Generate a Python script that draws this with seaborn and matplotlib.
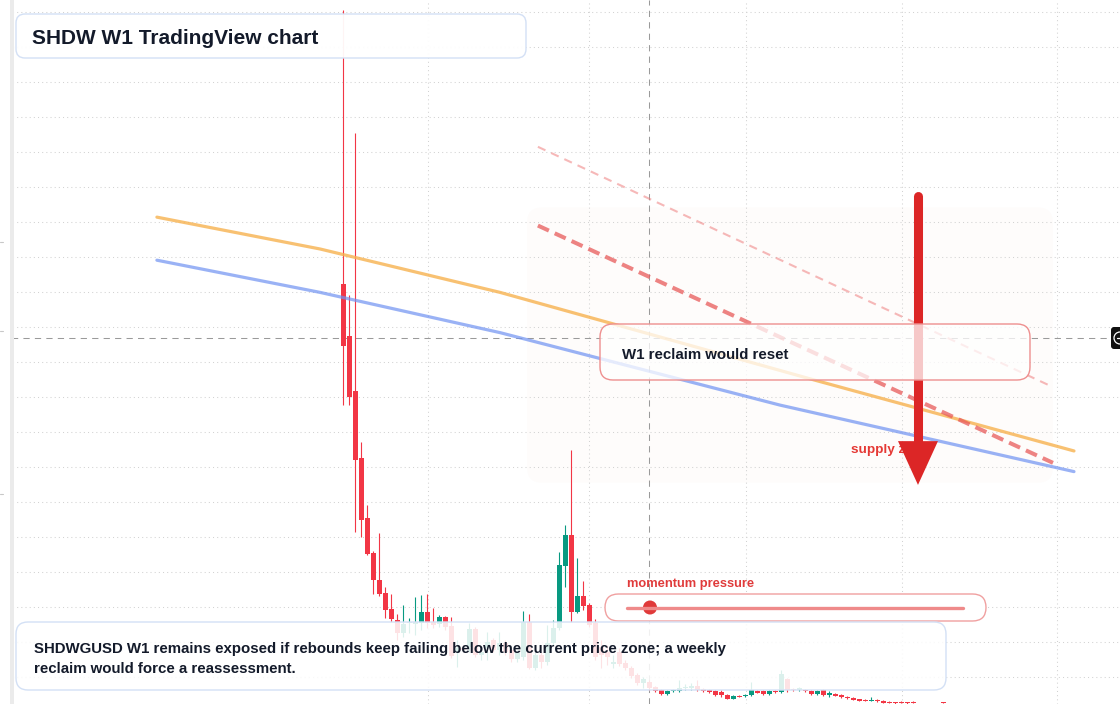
import numpy as np
import pandas as pd
import matplotlib
matplotlib.use("Agg")
import matplotlib.pyplot as plt
import seaborn as sns
from matplotlib.colors import to_rgba
from matplotlib.patches import FancyBboxPatch, Rectangle, Polygon, Circle

# SHDW/USD weekly candles (index 0 = first listed week), prices in USD
opens = [1.222, 1.073, 0.916, 0.725, 0.553, 0.453, 0.376, 0.339, 0.293, 0.262,
         0.225, 0.253, 0.251, 0.253, 0.285, 0.256, 0.251, 0.271, 0.245, 0.171,
         0.182, 0.185, 0.236, 0.162, 0.182, 0.205, 0.176, 0.196, 0.176, 0.151,
         0.156, 0.256, 0.125, 0.162, 0.142, 0.196, 0.239, 0.417, 0.505, 0.286,
         0.331, 0.305, 0.253, 0.185, 0.171, 0.136, 0.171, 0.139, 0.125, 0.105,
         0.082, 0.085, 0.071, 0.062, 0.051, 0.059, 0.059, 0.068, 0.068, 0.073,
         0.065, 0.062, 0.059, 0.056, 0.048, 0.037, 0.045, 0.045, 0.048, 0.060,
         0.059, 0.051, 0.060, 0.056, 0.093, 0.065, 0.062, 0.062, 0.060, 0.051,
         0.062, 0.048, 0.051, 0.048, 0.043, 0.040, 0.035, 0.033, 0.031, 0.033,
         0.031, 0.029, 0.028, 0.029, 0.028, 0.029, 0.021, 0.019, 0.018, 0.019,
         0.025]
highs = [2.005, 1.191, 1.653, 0.770, 0.590, 0.459, 0.510, 0.357, 0.336, 0.279,
         0.305, 0.268, 0.329, 0.333, 0.336, 0.296, 0.276, 0.273, 0.271, 0.205,
         0.191, 0.253, 0.242, 0.176, 0.228, 0.211, 0.228, 0.205, 0.182, 0.176,
         0.288, 0.279, 0.171, 0.171, 0.248, 0.262, 0.456, 0.533, 0.748, 0.440,
         0.373, 0.311, 0.265, 0.205, 0.191, 0.162, 0.182, 0.148, 0.131, 0.111,
         0.099, 0.091, 0.073, 0.065, 0.062, 0.065, 0.091, 0.079, 0.082, 0.091,
         0.068, 0.065, 0.062, 0.062, 0.051, 0.048, 0.048, 0.051, 0.086, 0.062,
         0.062, 0.062, 0.062, 0.119, 0.096, 0.068, 0.071, 0.065, 0.062, 0.062,
         0.065, 0.060, 0.054, 0.051, 0.045, 0.042, 0.036, 0.035, 0.043, 0.035,
         0.033, 0.031, 0.029, 0.031, 0.029, 0.031, 0.022, 0.020, 0.020, 0.020,
         0.026]
lows = [0.876, 0.876, 0.514, 0.500, 0.448, 0.336, 0.331, 0.268, 0.256, 0.205,
        0.213, 0.225, 0.219, 0.233, 0.239, 0.239, 0.242, 0.233, 0.153, 0.128,
        0.171, 0.171, 0.156, 0.148, 0.148, 0.171, 0.162, 0.162, 0.142, 0.142,
        0.148, 0.122, 0.119, 0.125, 0.133, 0.191, 0.233, 0.357, 0.257, 0.282,
        0.291, 0.242, 0.148, 0.125, 0.133, 0.125, 0.131, 0.119, 0.096, 0.076,
        0.068, 0.062, 0.056, 0.048, 0.048, 0.056, 0.056, 0.062, 0.062, 0.059,
        0.056, 0.053, 0.046, 0.042, 0.036, 0.036, 0.042, 0.042, 0.045, 0.053,
        0.048, 0.048, 0.053, 0.053, 0.056, 0.059, 0.059, 0.056, 0.048, 0.048,
        0.045, 0.043, 0.045, 0.039, 0.036, 0.032, 0.030, 0.030, 0.030, 0.029,
        0.025, 0.024, 0.023, 0.025, 0.022, 0.024, 0.018, 0.017, 0.017, 0.016,
        0.022]
closes = [1.046, 0.900, 0.719, 0.548, 0.451, 0.376, 0.336, 0.291, 0.265, 0.225,
          0.251, 0.256, 0.256, 0.285, 0.253, 0.248, 0.271, 0.242, 0.159, 0.182,
          0.176, 0.236, 0.162, 0.171, 0.199, 0.176, 0.196, 0.171, 0.151, 0.168,
          0.256, 0.125, 0.162, 0.142, 0.196, 0.239, 0.419, 0.505, 0.286, 0.331,
          0.303, 0.248, 0.156, 0.162, 0.156, 0.142, 0.136, 0.125, 0.102, 0.082,
          0.093, 0.068, 0.059, 0.051, 0.060, 0.060, 0.068, 0.071, 0.073, 0.062,
          0.059, 0.056, 0.048, 0.048, 0.037, 0.045, 0.043, 0.048, 0.062, 0.054,
          0.051, 0.060, 0.056, 0.108, 0.062, 0.062, 0.068, 0.059, 0.051, 0.060,
          0.048, 0.053, 0.046, 0.041, 0.038, 0.033, 0.031, 0.031, 0.033, 0.030,
          0.026, 0.025, 0.025, 0.026, 0.025, 0.026, 0.019, 0.018, 0.019, 0.017,
          0.024]

# drawn trend lines (week index, price)
ema_fast_x = [-31.1, -3.9, 26.1, 43.9, 78.4, 121.75]
ema_fast_y = [1.413, 1.322, 1.198, 1.113, 0.948, 0.745]
ema_slow_x = [-31.1, -3.9, 26.1, 72.75, 121.75]
ema_slow_y = [1.290, 1.198, 1.083, 0.876, 0.686]
res_main_x = [32.4, 118.25]
res_main_y = [1.389, 0.711]
res_outer_x = [32.4, 118.05]
res_outer_y = [1.614, 0.929]

# supply zone (weeks, price), crosshair, arrow
zone_weeks = [30.58, 118.25]
zone_prices = [0.654, 1.441]
cross_week = 51
cross_price = 1.067
arrow_week = 95.75
arrow_prices = [1.473, 0.773, 0.648]
time_grid = [14.03, 40.97, 67.03, 93.05, 118.97]

RED = "#f23645"
GREEN = "#089981"
DARK = "#131a2a"

sns.set_theme(style="white")
plt.rcParams["font.family"] = ["Liberation Sans", "DejaVu Sans"]

fig = plt.figure(figsize=(11.2, 7.04), dpi=100)
ax = fig.add_axes([0, 0, 1, 1])
ax.set_xlim(-57.25, 129.42)
ax.set_ylim(0.022, 2.0334)
ax.axis("off")

# grid
for p in np.arange(0.1, 2.01, 0.1):
    ax.axhline(p, color="#d2d2d2", lw=0.75, ls=(0, (1, 3)), zorder=1)
for w in time_grid:
    ax.axvline(w, color="#d2d2d2", lw=0.75, ls=(0, (1, 3)), zorder=1)

# supply zone
zone = FancyBboxPatch((zone_weeks[0], zone_prices[0]), zone_weeks[1] - zone_weeks[0],
                      zone_prices[1] - zone_prices[0],
                      boxstyle="round,pad=0,rounding_size=2.5", mutation_aspect=6 / 350,
                      fc=to_rgba("#f97316", 0.016), ec="none", zorder=0.5)
ax.add_patch(zone)

# crosshair
ax.axhline(cross_price, color="#9a9a9a", lw=0.75, ls=(0, (6, 5)), zorder=1.5)
ax.axvline(cross_week, color="#9a9a9a", lw=0.75, ls=(0, (6, 5)), zorder=1.5)

# candles
df = pd.DataFrame(dict(open=opens, high=highs, low=lows, close=closes))
df["week"] = np.arange(len(df))
colors = np.where(df.close >= df.open, GREEN, RED)
ax.vlines(df.week, df.low, df.high, colors=colors, lw=0.8, zorder=2)
body_lo = np.minimum(df.open, df.close)
body_h = np.maximum((df.close - df.open).abs(), 0.003)
ax.bar(df.week, body_h, bottom=body_lo, width=0.83, color=colors, linewidth=0, zorder=2.1)

# trend lines
sns.lineplot(x=ema_fast_x, y=ema_fast_y, ax=ax, color="#f7b24f", alpha=0.8, lw=2.3,
             sort=False, zorder=3, solid_capstyle="round")
sns.lineplot(x=ema_slow_x, y=ema_slow_y, ax=ax, color="#6f92f2", alpha=0.7, lw=2.3,
             sort=False, zorder=3, solid_capstyle="round")
ax.plot(res_main_x, res_main_y, color="#e85a5a", alpha=0.75, lw=2.9, ls=(0, (3.0, 1.6)), zorder=3)
ax.plot(res_outer_x, res_outer_y, color="#ef7f7f", alpha=0.55, lw=1.5, ls=(0, (4, 3)), zorder=3)

ax.text(84.6, 0.738, "supply zone", color="#e53935", fontsize=9.7, fontweight="bold",
        va="baseline", zorder=4)

# arrow
ax.plot([arrow_week, arrow_week], [arrow_prices[0], arrow_prices[1]], color="#dc2626",
        lw=6.5, solid_capstyle="round", zorder=5)
ax.add_patch(Polygon([[arrow_week - 3.33, arrow_prices[1]], [arrow_week + 3.33, arrow_prices[1]],
                      [arrow_week, arrow_prices[2]]], closed=True, fc="#dc2626", ec="none", zorder=5))

# overlay in pixel units for the panels
ov = fig.add_axes([0, 0, 1, 1])
ov.set_xlim(0, 1120)
ov.set_ylim(704, 0)
ov.axis("off")
ov.patch.set_alpha(0)


def panel(x0, y0, x1, y1, r, fc, ec, lw=1.0):
    ov.add_patch(FancyBboxPatch((x0, y0), x1 - x0, y1 - y0,
                                boxstyle=f"round,pad=0,rounding_size={r}", fc=fc, ec=ec, lw=lw))


ov.add_patch(Rectangle((0, 0), 10, 704, fc="white", ec="none"))
ov.add_patch(Rectangle((10, 0), 4, 704, fc="#ebebeb", ec="none"))
for yy in [242, 331, 494]:
    ov.plot([0, 3], [yy, yy], color="#c8c8c8", lw=0.8)

panel(16, 14, 526, 58, 9, to_rgba("white", 0.95), "#d3e0f5", lw=1.0)
ov.text(32, 43.5, "SHDW W1 TradingView chart", fontsize=15, fontweight="bold", color=DARK,
        va="baseline")

panel(600, 324, 1030, 380, 13, to_rgba("white", 0.75), "#ee8f8f", lw=1.0)
ov.text(622, 359, "W1 reclaim would reset", fontsize=10.8, fontweight="bold", color=DARK,
        va="baseline")

ov.text(627, 587, "momentum pressure", fontsize=9.3, fontweight="bold", color="#e03b3b",
        va="baseline")
panel(605, 594, 986, 621, 13.5, "white", "#f0a0a0", lw=1.0)
ov.plot([627, 963], [607.5, 607.5], color="#ef8a8a", lw=2.4, solid_capstyle="round")
ov.add_patch(Circle((650, 607.5), 7, fc="#e03a3a", ec="none"))

panel(16, 622, 946, 690, 12, to_rgba("white", 0.86), "#d3e0f5", lw=1.0)
ov.text(34, 653, "SHDWGUSD W1 remains exposed if rebounds keep failing below the current price zone; a weekly",
        fontsize=10.8, fontweight="bold", color=DARK, va="baseline")
ov.text(34, 673, "reclaim would force a reassessment.", fontsize=10.8, fontweight="bold",
        color=DARK, va="baseline")

# price-scale crosshair badge at the right edge
panel(1111, 327, 1130, 349, 3, "#111111", "none")
ov.add_patch(Circle((1120, 338), 6, fc="none", ec="white", lw=0.9))
ov.plot([1117, 1123], [338, 338], color="white", lw=0.9)

fig.savefig("out.png", dpi=100)
